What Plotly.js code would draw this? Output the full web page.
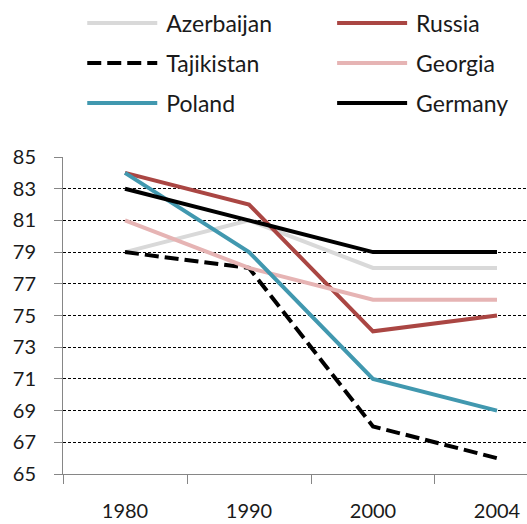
<!DOCTYPE html>
<html>
<head>
<meta charset="utf-8">
<script src="https://cdn.plot.ly/plotly-3.0.1.min.js"></script>
<style>html,body{margin:0;padding:0;background:#fff;}#chart{width:527px;height:524px;}</style>
</head>
<body>
<div id="chart"></div>
<script>
var years = ['1980', '1990', '2000', '2004'];
var azerbaijan = [79, 81, 78, 78];
var russia = [84, 82, 74, 75];
var tajikistan = [79, 78, 68, 66];
var georgia = [81, 78, 76, 76];
var poland = [84, 79, 71, 69];
var germany = [83, 81, 79, 79];
var yTicks = [65, 67, 69, 71, 73, 75, 77, 79, 81, 83, 85];

var FONT = 'Lato, "Open Sans", sans-serif';
function tr(name, y, color, dash, legend) {
  return {
    type: 'scatter', mode: 'lines', name: name, x: years, y: y,
    line: {color: color, width: 4, dash: dash || 'solid'},
    legend: legend, legendgroup: name, hoverinfo: 'skip'
  };
}
var data = [
  tr('Azerbaijan', azerbaijan, '#d9d9d9', null, 'legend'),
  tr('Russia', russia, '#aa4643', null, 'legend2'),
  tr('Tajikistan', tajikistan, '#000000', '14px,6px', 'legend'),
  tr('Georgia', georgia, '#e6b4b4', null, 'legend2'),
  tr('Poland', poland, '#4198af', null, 'legend'),
  tr('Germany', germany, '#000000', null, 'legend2')
];
var legendBase = {
  orientation: 'v', xanchor: 'left', yanchor: 'top', y: 1.49,
  font: {family: FONT, size: 23, color: '#1a1a1a'},
  itemwidth: 74, tracegroupgap: 7, traceorder: 'grouped',
  bgcolor: 'rgba(0,0,0,0)', itemclick: false, itemdoubleclick: false
};
var layout = {
  width: 527, height: 524,
  margin: {l: 63, r: 0, t: 157, b: 50},
  paper_bgcolor: '#fff', plot_bgcolor: '#fff',
  showlegend: true,
  legend: Object.assign({}, legendBase, {x: 0.0415}),
  legend2: Object.assign({}, legendBase, {x: 0.580}),
  xaxis: {
    type: 'category', range: [-0.5, 3.242], showgrid: false, zeroline: false,
    showline: true, linecolor: '#868686', linewidth: 1,
    ticks: 'outside', ticklen: 9, tickcolor: '#868686', tickson: 'boundaries',
    tickfont: {family: FONT, size: 20, color: '#1a1a1a'}, ticklabelstandoff: 19,
    fixedrange: true
  },
  yaxis: {
    range: [65, 85], tickvals: yTicks, ticktext: yTicks.map(String),
    showgrid: true, gridcolor: '#000', gridwidth: 1, griddash: '3px,2px',
    zeroline: false, showline: true, linecolor: '#868686', linewidth: 1,
    ticks: 'outside', ticklen: 8, tickcolor: '#868686',
    tickfont: {family: FONT, size: 20, color: '#1a1a1a'}, ticklabelstandoff: 14,
    fixedrange: true
  }
};
Plotly.newPlot('chart', data, layout, {staticPlot: true}).then(function () {
  document.querySelectorAll('.legend .js-line, .legend2 .js-line, [class^="legend"] .js-line').forEach(function (p) {
    p.setAttribute('d', 'M5,0h70');
  });
});
</script>
</body>
</html>
